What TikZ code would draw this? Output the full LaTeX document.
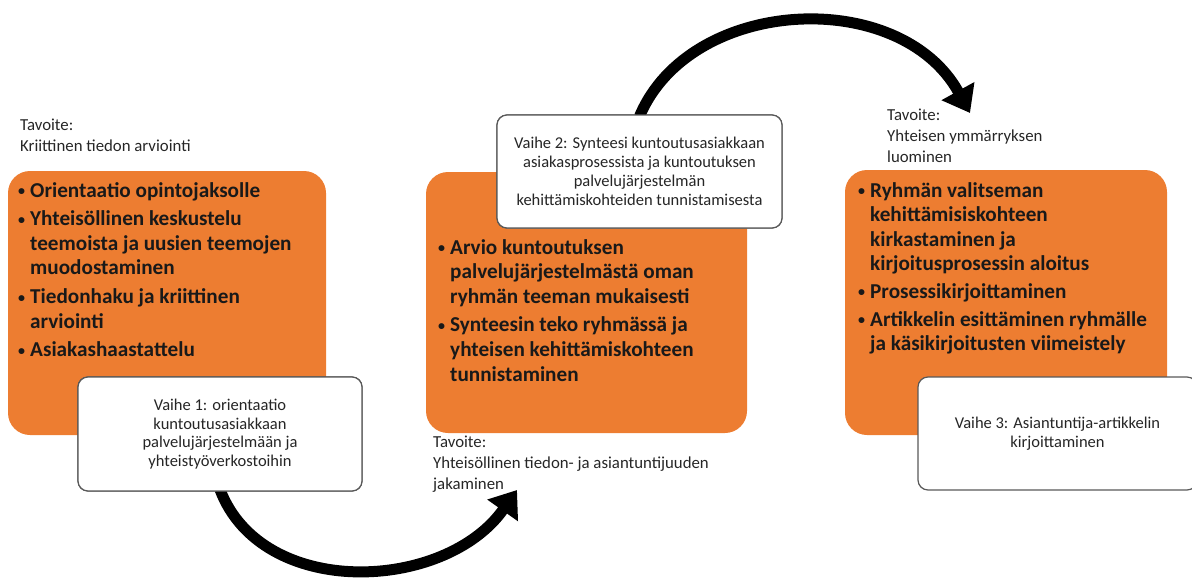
\documentclass[tikz,border=0pt]{standalone}
\usepackage{fontspec}
\setmainfont{Carlito}
\usetikzlibrary{arrows.meta}
\definecolor{boxorange}{HTML}{ED7D31}
\definecolor{edgegray}{HTML}{595959}
\newcommand{\bul}{\makebox[13pt][l]{\hspace*{1pt}\raisebox{1.5pt}{\fontsize{14}{14}\selectfont\textbullet}}}
\newcommand{\ind}{\hspace*{13pt}}
\tikzset{
  obox/.style={fill=boxorange, draw=none, rounded corners=22pt, inner sep=0pt},
  wbox/.style={fill=white, draw=edgegray, line width=1.2pt, rounded corners=10pt, inner sep=0pt},
  btext/.style={font=\fontsize{21.2}{24.6}\selectfont\bfseries, align=left, inner sep=0pt, text=black!90, anchor=north west},
  vtext/.style={font=\fontsize{16.5}{18.8}\selectfont, align=center, inner sep=0pt, text=black!85},
  gtext/.style={font=\fontsize{16.8}{20.8}\selectfont, align=left, inner sep=0pt, text=black!85, anchor=north west},
  bigarrow/.style={line width=11pt, -{Triangle[width=36pt,length=25pt]}}
}
\begin{document}
\begin{tikzpicture}[x=1pt,y=-1pt]
\useasboundingbox (0,0) rectangle (1192,581);
\clip (0,0) rectangle (1192,581);
% orange boxes
\node[obox, minimum width=318pt, minimum height=264pt] (o1) at (167,303) {};
\node[obox, minimum width=321pt, minimum height=261pt] (o2) at (586.5,302.5) {};
\node[obox, minimum width=322pt, minimum height=265pt] (o3) at (1006,302.5) {};
% bullet texts
\node[btext] (t1) at (17,182) {\bul Orientaatio opintojaksolle\\[4pt]
 \bul Yhteisöllinen keskustelu\\ \ind teemoista ja uusien teemojen\\ \ind muodostaminen\\[4pt]
 \bul Tiedonhaku ja kriittinen\\ \ind arviointi\\[4pt]
 \bul Asiakashaastattelu};
\node[btext] (t2) at (437,239) {\bul Arvio kuntoutuksen\\ \ind palvelujärjestelmästä oman\\ \ind ryhmän teeman mukaisesti\\[4pt]
 \bul Synteesin teko ryhmässä ja\\ \ind yhteisen kehittämiskohteen\\ \ind tunnistaminen};
\node[btext] (t3) at (857,182) {\bul Ryhmän valitseman\\ \ind kehittämisiskohteen\\ \ind kirkastaminen ja\\ \ind kirjoitusprosessin aloitus\\[3pt]
 \bul Prosessikirjoittaminen\\[3pt]
 \bul Artikkelin esittäminen ryhmälle\\ \ind ja käsikirjoitusten viimeistely};
% arrows
\coordinate (a1end) at (517,490);
\coordinate (a2end) at (970,113);
\node[wbox, minimum width=284pt, minimum height=114pt] (w1) at (220,434) {};
\node[wbox, minimum width=285pt, minimum height=113pt] (w2) at (639.5,171.5) {};
\draw[bigarrow] (w1.south) ++(0,-2) .. controls (262,600) and (445,592) .. (a1end);
\draw[bigarrow] (w2.north) ++(0,2) .. controls (690,-4) and (900,-14) .. (a2end);
% white boxes (redrawn on top)
\node[wbox, minimum width=284pt, minimum height=114pt] at (w1) {};
\node[wbox, minimum width=285pt, minimum height=113pt] at (w2) {};
\node[wbox, minimum width=279pt, minimum height=113pt] (w3) at (1057.5,433.5) {};
\node[vtext] (v1) at (w1) {Vaihe 1: orientaatio\\kuntoutusasiakkaan\\palvelujärjestelmään ja\\yhteistyöverkostoihin};
\node[vtext] (v2) at (w2) {Vaihe 2: Synteesi kuntoutusasiakkaan\\asiakasprosessista ja kuntoutuksen\\palvelujärjestelmän\\kehittämiskohteiden tunnistamisesta};
\node[vtext] (v3) at (w3) {Vaihe 3: Asiantuntija-artikkelin\\kirjoittaminen};
% goal texts
\node[gtext] (g1) at (20,119) {Tavoite:\\Kriittinen tiedon arviointi};
\node[gtext] (g2) at (433,436) {Tavoite:\\Yhteisöllinen tiedon- ja asiantuntijuuden\\jakaminen};
\node[gtext] (g3) at (887,109) {Tavoite:\\Yhteisen ymmärryksen\\luominen};
\end{tikzpicture}
\end{document}
